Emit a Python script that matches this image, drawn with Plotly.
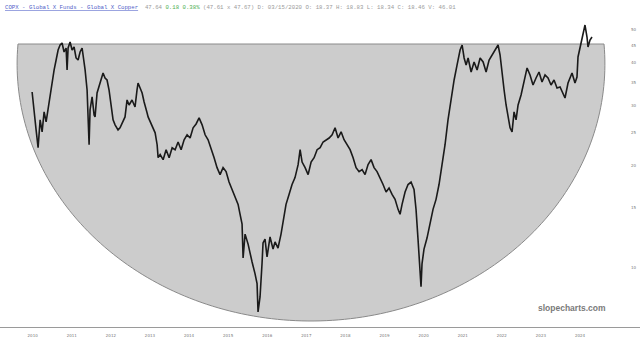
import numpy as np
import pandas as pd
import plotly.graph_objects as go

# ---- data (decimal year, price) ----
t_year = [
    2010.271, 2010.322, 2010.373, 2010.424, 2010.476, 2010.527, 2010.578, 2010.629, 2010.680, 2010.731,
    2010.783, 2010.834, 2010.885, 2010.936, 2010.987, 2011.038, 2011.089, 2011.141, 2011.166, 2011.192,
    2011.243, 2011.294, 2011.345, 2011.396, 2011.448, 2011.499, 2011.550, 2011.601, 2011.627, 2011.678,
    2011.703, 2011.729, 2011.754, 2011.806, 2011.857, 2011.882, 2011.933, 2012.010, 2012.061, 2012.087,
    2012.138, 2012.189, 2012.240, 2012.266, 2012.317, 2012.343, 2012.394, 2012.470, 2012.521, 2012.573,
    2012.624, 2012.649, 2012.701, 2012.752, 2012.828, 2012.880, 2012.905, 2012.956, 2012.982, 2013.033,
    2013.084, 2013.135, 2013.161, 2013.212, 2013.237, 2013.289, 2013.340, 2013.391, 2013.417, 2013.468,
    2013.493,
    2013.545, 2013.621, 2013.698, 2013.775, 2013.852, 2013.928, 2014.005, 2014.082, 2014.159, 2014.235,
    2014.312, 2014.389, 2014.465, 2014.542, 2014.619, 2014.696, 2014.772, 2014.849, 2014.926, 2015.002,
    2015.079, 2015.156, 2015.233, 2015.309, 2015.386, 2015.463, 2015.540, 2015.591, 2015.642, 2015.668,
    2015.719, 2015.796, 2015.847, 2015.898, 2015.974, 2016.026, 2016.051, 2016.102, 2016.154, 2016.179,
    2016.230, 2016.281, 2016.358, 2016.435, 2016.486, 2016.562, 2016.639, 2016.716, 2016.767, 2016.844,
    2016.921, 2016.997, 2017.074, 2017.125, 2017.176, 2017.253, 2017.330, 2017.406, 2017.483, 2017.560,
    2017.637, 2017.713, 2017.790, 2017.867, 2017.944, 2018.020, 2018.097, 2018.174, 2018.250, 2018.327,
    2018.404, 2018.481, 2018.557, 2018.634, 2018.711, 2018.787, 2018.864, 2018.941, 2019.018, 2019.094,
    2019.171, 2019.248, 2019.325, 2019.401, 2019.478, 2019.555, 2019.632, 2019.683, 2019.734, 2019.811,
    2019.887, 2019.964, 2020.041, 2020.092, 2020.143, 2020.194, 2020.220, 2020.245, 2020.296, 2020.373,
    2020.450, 2020.527, 2020.604, 2020.680, 2020.757, 2020.834, 2020.910, 2020.987, 2021.064, 2021.140,
    2021.217, 2021.269, 2021.320, 2021.371, 2021.422, 2021.499, 2021.575, 2021.652, 2021.729, 2021.806,
    2021.882, 2021.959, 2022.036, 2022.112, 2022.189, 2022.240, 2022.292, 2022.343, 2022.394, 2022.445,
    2022.496, 2022.547, 2022.598, 2022.649, 2022.701, 2022.777, 2022.854, 2022.931, 2023.007, 2023.084,
    2023.161, 2023.237, 2023.314, 2023.391, 2023.468, 2023.544, 2023.621, 2023.698, 2023.775, 2023.851,
    2023.902, 2023.979, 2024.082, 2024.158, 2024.209, 2024.235, 2024.286, 2024.337, 2024.363, 2024.414,
    2024.465, 2024.491, 2024.542, 2024.593,
]
price = [
    32.86, 28.13, 25.43, 22.53, 27.20, 25.09, 28.71, 26.84, 29.49, 31.77,
    35.64, 38.15, 40.81, 43.67, 45.17, 45.78, 43.08, 44.26, 38.15, 44.26,
    46.09, 43.67, 44.56, 41.37, 40.81, 43.08, 44.26, 40.81, 38.15, 33.31,
    28.71, 22.99, 29.10, 31.77, 28.13, 27.75, 32.64, 34.92, 36.87, 37.37,
    36.13, 35.64, 33.31, 31.77, 29.10, 27.20, 26.30, 25.43, 25.78, 26.66,
    27.20, 27.75, 31.13, 30.09, 31.13, 29.89, 29.69, 33.31, 34.92, 33.76,
    32.64, 30.71, 29.69, 28.51, 27.75, 26.84, 25.95, 25.43, 24.92, 22.99,
    21.06,
    21.50, 20.78, 22.23, 21.06, 22.53, 22.23, 23.42, 22.23, 23.78, 24.59,
    24.06, 25.78, 26.46, 27.57, 26.30, 24.59, 23.78, 22.53, 21.06, 19.69,
    18.78, 19.69, 19.16, 17.86, 16.98, 16.03, 15.35, 14.35, 13.42, 10.68,
    12.55, 11.73, 10.89, 10.39, 9.59, 8.97, 7.41, 8.20, 10.32, 11.82,
    12.13, 10.75, 12.31, 11.34, 11.90, 11.42, 12.55, 14.35, 15.35, 16.42,
    17.56, 18.40, 20.09, 22.23, 20.45, 19.69, 18.78, 20.45, 21.06, 22.23,
    22.53, 23.42, 23.78, 24.06, 24.59, 25.78, 24.06, 25.09, 23.78, 22.99,
    22.23, 21.06, 19.69, 19.16, 19.42, 18.78, 20.09, 20.78, 19.69, 19.16,
    18.40, 17.56, 16.69, 17.15, 16.42, 15.88, 14.84, 14.35, 15.35, 16.69,
    17.56, 17.86, 16.98, 14.84, 12.13, 9.92, 8.79, 10.26, 11.34, 12.22,
    13.42, 14.84, 15.88, 17.56, 20.09, 22.99, 27.20, 31.13, 35.64, 39.46,
    43.67, 45.17, 41.37, 39.46, 41.37, 37.62, 40.27, 38.15, 41.37, 40.27,
    37.62, 40.81, 42.22, 43.67, 45.17, 42.22, 38.15, 33.31, 30.09, 27.57,
    25.78, 25.09, 28.71, 27.20, 30.09, 32.20, 35.64, 38.67, 36.87, 34.45,
    36.13, 37.62, 35.16, 36.87, 36.13, 34.45, 35.64, 33.76, 33.99, 32.64,
    31.55, 34.92, 37.37, 34.92, 36.37, 41.65, 44.56, 46.72, 48.99, 51.72,
    47.68, 44.56, 46.72, 47.68,
]
y_ticks = [10, 15, 20, 25, 30, 35, 40, 45, 50]
x_years = [2010, 2011, 2012, 2013, 2014, 2015, 2016, 2017, 2018, 2019, 2020, 2021, 2022, 2023, 2024]

header_title = "COPX - Global X Funds - Global X Copper"
header_last = "47.64"
header_chg = "0.18 0.38%"
header_rest = "(47.61 x 47.67) D: 03/15/2020 O: 18.37 H: 18.83 L: 18.34 C: 18.46 V: 46.01"


def to_date(y):
    yr = int(y)
    return pd.Timestamp(year=yr, month=1, day=1) + pd.Timedelta(days=(y - yr) * 365.25)


dates = [to_date(v) for v in t_year]

W, H = 640, 342
TOP, BOT = 15, 327


def paper(px, py):
    return px / W, (BOT - py) / (BOT - TOP)


# decorative "cup" half-ellipse (pixel geometry -> paper coords)
cx, cy, a, b, chord = 311.0, 64.0, 293.9, 257.0, 44.0
th0 = np.arcsin((chord - cy) / b)
th = np.linspace(th0, np.pi - th0, 160)
pts = [paper(cx + a * np.cos(t), cy + b * np.sin(t)) for t in th]
path = "M " + " L ".join(f"{x:.5f},{y:.5f}" for x, y in pts) + " Z"

fig = go.Figure()
fig.add_trace(go.Scatter(x=dates, y=price, mode="lines",
                         line=dict(color="#1a1a1a", width=1.6), hoverinfo="skip"))

fig.add_shape(type="path", path=path, xref="paper", yref="paper",
              fillcolor="#cccccc", line=dict(color="#8a8a8a", width=1), layer="below")

fig.update_layout(
    width=W, height=H,
    margin=dict(l=0, r=0, t=TOP, b=H - BOT),
    paper_bgcolor="white", plot_bgcolor="white",
    showlegend=False,
    xaxis=dict(
        type="date",
        range=["2009-06-14", "2025-10-27"],
        showgrid=False, zeroline=False,
        showline=True, linecolor="#9a9a9a", linewidth=1,
        tickvals=[f"{y}-04-15" for y in x_years],
        ticktext=[str(y) for y in x_years],
        tickfont=dict(size=4, color="#777", family="DejaVu Sans"),
        ticks="",
        ticklabelstandoff=4,
    ),
    yaxis=dict(
        type="log",
        range=[0.82544, 1.74309],
        side="right",
        ticklabelposition="inside",
        ticklabelstandoff=1,
        tickvals=y_ticks,
        ticktext=[str(v) for v in y_ticks],
        tickfont=dict(size=4, color="#777", family="DejaVu Sans"),
        showgrid=False, zeroline=False, showline=False, ticks="",
    ),
)

hx, hy = paper(3, 7)
fig.add_annotation(
    xref="paper", yref="paper", x=hx, y=hy, xanchor="left", yanchor="middle",
    showarrow=False,
    font=dict(family="Liberation Mono", size=5.7, color="#999"),
    text=(f'<span style="color:#5060c8"><u>{header_title}</u></span>&nbsp;&nbsp;'
          f'<span style="color:#999">{header_last}</span> '
          f'<span style="color:#4caf50">{header_chg}</span> '
          f'<span style="color:#999">{header_rest}</span>'),
)

wx, wy = paper(608, 308)
fig.add_annotation(
    xref="paper", yref="paper", x=wx, y=wy, xanchor="right", yanchor="middle",
    showarrow=False, text="<b>slopecharts.com</b>",
    font=dict(family="Liberation Sans", size=8.5, color="#7a7a7a"),
)

fig.write_html("out.html")
